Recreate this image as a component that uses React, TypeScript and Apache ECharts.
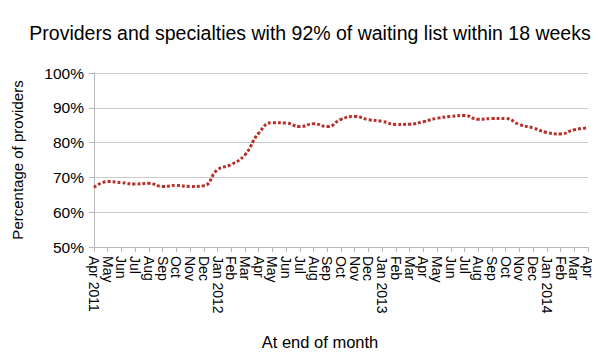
import React, { useEffect, useRef } from "react";
import * as echarts from "echarts";

const months = [
  "Apr 2011", "May", "Jun", "Jul", "Aug", "Sep", "Oct", "Nov", "Dec",
  "Jan 2012", "Feb", "Mar", "Apr", "May", "Jun", "Jul", "Aug", "Sep", "Oct", "Nov", "Dec",
  "Jan 2013", "Feb", "Mar", "Apr", "May", "Jun", "Jul", "Aug", "Sep", "Oct", "Nov", "Dec",
  "Jan 2014", "Feb", "Mar", "Apr",
];

const percentages = [
  67.1, 68.8, 68.5, 68.1, 68.3, 67.4, 67.7, 67.4, 67.6,
  72.2, 73.7, 76.5, 82.7, 85.7, 85.6, 84.6, 85.4, 84.6, 86.7, 87.5, 86.6,
  86.1, 85.2, 85.3, 86.0, 87.0, 87.5, 87.8, 86.7, 86.9, 86.9, 85.2, 84.2,
  82.9, 82.5, 83.7, 84.2,
];

const FONT = "'Liberation Sans', Arial, Helvetica, sans-serif";

export default function App() {
  const ref = useRef<HTMLDivElement>(null);
  useEffect(() => {
    if (!ref.current) return;
    const chart = echarts.init(ref.current, null, { renderer: "svg" });
    chart.setOption({
      animation: false,
      backgroundColor: "#ffffff",
      title: {
        text: "Providers and specialties with 92% of waiting list within 18 weeks",
        left: 305,
        textAlign: "center",
        top: 18,
        textStyle: { fontFamily: FONT, fontSize: 19.5, fontWeight: "normal", color: "#000" },
      },
      grid: { left: 94, right: 12, top: 73, bottom: 109 },
      xAxis: {
        type: "category",
        data: months,
        boundaryGap: false,
        name: "At end of month",
        nameLocation: "middle",
        nameGap: 86,
        nameTextStyle: { fontFamily: FONT, fontSize: 16.5, color: "#000", padding: [0, 42, 0, 0] },
        axisLine: { lineStyle: { color: "#b8b8b8", width: 1 } },
        axisTick: { show: true, interval: 0, length: 5, lineStyle: { color: "#b8b8b8" } },
        axisLabel: {
          interval: 0,
          rotate: -90,
          margin: 9,
          fontFamily: FONT,
          fontSize: 14,
          color: "#000",
        },
        splitLine: { show: false },
      },
      yAxis: {
        type: "value",
        min: 50,
        max: 100,
        interval: 10,
        name: "Percentage of providers",
        nameLocation: "middle",
        nameGap: 69,
        nameTextStyle: { fontFamily: FONT, fontSize: 15, color: "#000" },
        axisLine: { show: true, lineStyle: { color: "#b8b8b8" } },
        axisTick: { show: true, length: 5, lineStyle: { color: "#b8b8b8" } },
        axisLabel: {
          formatter: "{value}%",
          margin: 10,
          fontFamily: FONT,
          fontSize: 15.5,
          color: "#000",
        },
        splitLine: { lineStyle: { color: "#cccccc", width: 1 } },
      },
      series: [
        {
          type: "line",
          data: percentages,
          smooth: 0.5,
          symbol: "none",
          lineStyle: { color: "#b8302a", width: 3, type: [3, 2] },
        },
      ],
    });
    return () => chart.dispose();
  }, []);
  return <div ref={ref} style={{ width: 600, height: 356, margin: -8 }} />;
}
